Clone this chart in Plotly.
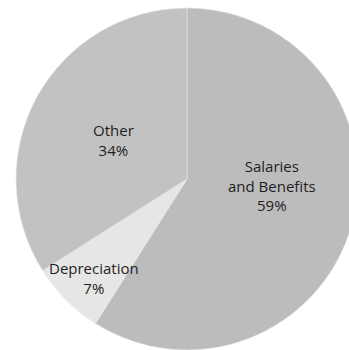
import plotly.graph_objects as go

labels = ["Salaries and Benefits", "Depreciation", "Other"]
values = [59, 7, 34]
colors = ["#bcbcbc", "#e6e6e6", "#c2c2c2"]
label_text = ["Salaries<br>and Benefits<br>59%", "Depreciation<br>7%", "Other<br>34%"]
# label anchor positions in pixels (x from left, y from top)
label_px = [(272, 185), (94, 278), (113, 140)]

W, H = 360, 350
fig = go.Figure(go.Pie(
    labels=labels, values=values, sort=False, direction="clockwise", rotation=0,
    marker=dict(colors=colors, line=dict(color="#e8e8e8", width=0.6)),
    textinfo="none", hoverinfo="label+percent", showlegend=False,
    domain=dict(x=[16 / W, 358 / W], y=[0, 342 / H]),
))
for t, (px, py) in zip(label_text, label_px):
    fig.add_annotation(x=px / W, y=1 - py / H, xref="paper", yref="paper",
                       text=t, showarrow=False, xanchor="center", yanchor="middle",
                       font=dict(family="Open Sans", size=15, color="#1e1e1e"))
fig.update_layout(width=W, height=H, margin=dict(l=0, r=0, t=0, b=0),
                  paper_bgcolor="white", plot_bgcolor="white")
fig.write_html("out.html", post_script="document.body.style.overflow='hidden';document.documentElement.style.overflow='hidden';document.body.style.margin='0';")
